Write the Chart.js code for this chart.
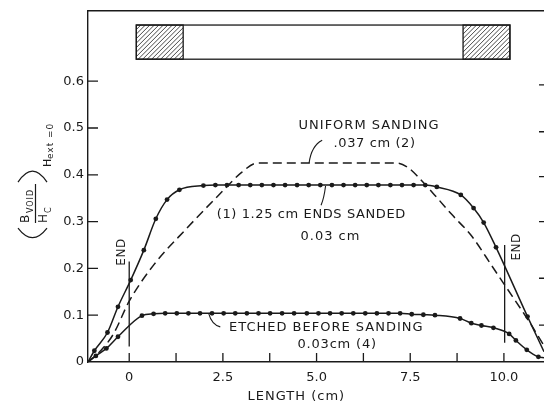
<!DOCTYPE html>
<html>
<head>
<meta charset="utf-8">
<script src="https://cdn.jsdelivr.net/npm/chart.js@4.4.1/dist/chart.umd.min.js"></script>
<style>
  html, body { margin: 0; padding: 0; background: #fff; }
  #wrap { width: 544px; height: 404px; }
</style>
</head>
<body>
<div id="wrap"><canvas id="chart" width="544" height="404"></canvas></div>
<script>
// curve (1): 1.25 cm ends sanded, 0.03 cm
const sandedX = [-1.1, -0.93, -0.58, -0.30, 0.04, 0.39, 0.71, 1.01, 1.34, 1.98,
  2.30, 2.61, 2.92, 3.23, 3.54, 3.85, 4.16, 4.48, 4.79, 5.10, 5.41, 5.72, 6.03, 6.34,
  6.65, 6.97, 7.28, 7.59, 7.90, 8.21, 8.85, 9.19, 9.46, 9.79, 10.63, 11.07];
const sandedY = [0, 0.024, 0.063, 0.118, 0.175, 0.239, 0.306, 0.347, 0.368, 0.377,
  0.378, 0.378, 0.378, 0.378, 0.378, 0.378, 0.378, 0.378, 0.378, 0.378, 0.378, 0.378, 0.378, 0.378,
  0.378, 0.378, 0.378, 0.378, 0.378, 0.374, 0.357, 0.329, 0.298, 0.245, 0.097, 0.022];

// curve (2): uniform sanding, .037 cm (dashed)
const uniformX = [-1.1, -0.75, -0.42, 0, 0.65, 1.54, 2.43, 3.0, 3.41, 7.15, 7.45, 7.75,
  8.27, 8.6, 9.15, 9.69, 10.0, 10.7, 11.07];
const uniformY = [0, 0.025, 0.06, 0.13, 0.207, 0.286, 0.36, 0.405, 0.425, 0.425, 0.415, 0.392,
  0.346, 0.316, 0.268, 0.204, 0.167, 0.083, 0.035];

// curve (4): etched before sanding, 0.03 cm
const etchedX = [-1.1, -0.89, -0.61, -0.30, 0.34, 0.65, 0.96, 1.27, 1.58, 1.89, 2.21, 2.52,
  2.83, 3.14, 3.45, 3.76, 4.08, 4.40, 4.74, 5.05, 5.36, 5.67, 5.98, 6.30, 6.61, 6.92, 7.23,
  7.54, 7.85, 8.16, 8.83, 9.13, 9.40, 9.72, 10.14, 10.32, 10.61, 10.92, 11.07];
const etchedY = [0, 0.013, 0.029, 0.054, 0.099, 0.103, 0.104, 0.104, 0.104, 0.104, 0.104, 0.104,
  0.104, 0.104, 0.104, 0.104, 0.104, 0.104, 0.104, 0.104, 0.104, 0.104, 0.104, 0.104, 0.104, 0.104, 0.104,
  0.102, 0.101, 0.100, 0.093, 0.083, 0.078, 0.073, 0.060, 0.046, 0.026, 0.011, 0.009];

const xTickValues = [0, 1.25, 2.5, 3.75, 5, 6.25, 7.5, 8.75, 10];
const xTickLabels = ['0', '', '2.5', '', '5.0', '', '7.5', '', '10.0'];
const yTickValues = [0, 0.1, 0.2, 0.3, 0.4, 0.5, 0.6];
const yTickLabels = ['0', '0.1', '0.2', '0.3', '0.4', '0.5', '0.6'];
const rightTickValues = [0.079, 0.179, 0.30, 0.396, 0.492, 0.592];

// specimen sketch at the top (cm) and the sample ends
const barX = [0.19, 10.16];
const barY = [0.647, 0.72];
const hatchLen = 1.25;
const endMarks = [0, 10.02];

const ink = '#1a1a1a';
const family = '"DejaVu Sans", sans-serif';

const toPoints = (xs, ys) => xs.map((v, i) => ({ x: v, y: ys[i] }));
const dotRadius = ctx => (ctx.dataIndex === 0 || ctx.dataIndex === ctx.dataset.data.length - 1) ? 0 : 2.4;

const notes = [
  { text: 'UNIFORM SANDING', x: 6.40, y: 0.506, spacing: 1 },
  { text: '.037 cm (2)', x: 6.55, y: 0.467, spacing: 0.6 },
  { text: '(1) 1.25 cm ENDS SANDED', x: 4.86, y: 0.314, spacing: 0.6 },
  { text: '0.03 cm', x: 5.37, y: 0.268, spacing: 1 },
  { text: 'ETCHED BEFORE SANDING', x: 5.26, y: 0.073, spacing: 1 },
  { text: '0.03cm (4)', x: 5.55, y: 0.038, spacing: 0.8 },
];
const leaders = [
  [[5.15, 0.474], [4.86, 0.462], [4.80, 0.425]],
  [[5.24, 0.376], [5.20, 0.350], [5.12, 0.335]],
  [[2.12, 0.104], [2.20, 0.080], [2.43, 0.075]],
];

const sketch = {
  id: 'sketch',
  afterDatasetsDraw(chart) {
    const { ctx, chartArea: area, scales: { x, y } } = chart;
    const px = v => x.getPixelForValue(v);
    const py = v => y.getPixelForValue(v);
    ctx.save();
    ctx.strokeStyle = ink;
    ctx.fillStyle = ink;
    ctx.lineWidth = 1.3;

    // inward tick marks
    ctx.beginPath();
    xTickValues.forEach(v => { ctx.moveTo(px(v), area.bottom); ctx.lineTo(px(v), area.bottom - 9); });
    yTickValues.slice(1).forEach(v => { ctx.moveTo(area.left, py(v)); ctx.lineTo(area.left + 10, py(v)); });
    rightTickValues.forEach(v => { ctx.moveTo(area.right, py(v)); ctx.lineTo(area.right - 5, py(v)); });
    ctx.stroke();

    // specimen bar with hatched ends
    const t = py(barY[1]), b = py(barY[0]);
    const hatch = (x0, x1) => {
      const l = px(x0), r = px(x1);
      ctx.save();
      ctx.beginPath(); ctx.rect(l, t, r - l, b - t); ctx.clip();
      ctx.beginPath();
      for (let s = l - (b - t); s < r; s += 4.5) { ctx.moveTo(s, b); ctx.lineTo(s + (b - t), t); }
      ctx.lineWidth = 0.8; ctx.stroke();
      ctx.restore();
      ctx.strokeRect(l, t, r - l, b - t);
    };
    ctx.strokeRect(px(barX[0]), t, px(barX[1]) - px(barX[0]), b - t);
    hatch(barX[0], barX[0] + hatchLen);
    hatch(barX[1] - hatchLen, barX[1]);

    // END lines and labels
    ctx.beginPath();
    ctx.moveTo(px(endMarks[0]), py(0.215)); ctx.lineTo(px(endMarks[0]), py(0.033));
    ctx.moveTo(px(endMarks[1]), py(0.25)); ctx.lineTo(px(endMarks[1]), py(0.041));
    ctx.stroke();
    ctx.font = '12px ' + family;
    ctx.textAlign = 'center';
    ctx.textBaseline = 'middle';
    ctx.letterSpacing = '0.5px';
    [[-0.19, 0.235], [10.35, 0.246]].forEach(([ex, ey]) => {
      ctx.save();
      ctx.translate(px(ex), py(ey));
      ctx.rotate(-Math.PI / 2);
      ctx.fillText('END', 0, 0);
      ctx.restore();
    });

    // curve notes
    ctx.font = '13px ' + family;
    notes.forEach(n => {
      ctx.letterSpacing = n.spacing + 'px';
      ctx.fillText(n.text, px(n.x), py(n.y));
    });
    ctx.lineWidth = 1.1;
    leaders.forEach(([p0, c, p1]) => {
      ctx.beginPath();
      ctx.moveTo(px(p0[0]), py(p0[1]));
      ctx.quadraticCurveTo(px(c[0]), py(c[1]), px(p1[0]), py(p1[1]));
      ctx.stroke();
    });

    // x axis title
    ctx.letterSpacing = '1px';
    ctx.fillText('LENGTH (cm)', px(4.46), area.bottom + 35);

    // y axis title: (B_VOID / H_C) sub Hext=0, rotated
    ctx.save();
    ctx.translate(area.left - 54, py(0.346));
    ctx.rotate(-Math.PI / 2);
    ctx.textAlign = 'left';
    ctx.textBaseline = 'alphabetic';
    ctx.letterSpacing = '0px';
    ctx.lineWidth = 1.2;
    ctx.beginPath();
    ctx.moveTo(-28, -16); ctx.quadraticCurveTo(-47, -1.5, -28, 13);
    ctx.moveTo(18, -16); ctx.quadraticCurveTo(40, -1.5, 18, 13);
    ctx.moveTo(-23, 1.5); ctx.lineTo(16, 1.5);
    ctx.stroke();
    ctx.font = '12px ' + family;
    ctx.fillText('B', -23, -5);
    ctx.fillText('H', -23, 13);
    ctx.font = '11px ' + family;
    ctx.fillText('H', 33, 17);
    ctx.font = '8px ' + family;
    ctx.letterSpacing = '1px';
    ctx.fillText('VOID', -13, -1);
    ctx.fillText('C', -13, 17);
    ctx.font = '9px ' + family;
    ctx.fillText('ext =0', 41, 19);
    ctx.restore();

    ctx.restore();
  }
};

const tickFont = { family: '"DejaVu Sans", sans-serif', size: 13 };
const noPad = s => { s.paddingTop = 0; s.paddingBottom = 0; s.paddingLeft = 0; s.paddingRight = 0; };

new Chart(document.getElementById('chart'), {
  type: 'scatter',
  data: {
    datasets: [
      {
        data: toPoints(sandedX, sandedY), showLine: true, borderColor: ink, borderWidth: 1.5,
        pointRadius: dotRadius, pointBackgroundColor: ink, pointBorderWidth: 0,
        cubicInterpolationMode: 'monotone'
      },
      {
        data: toPoints(uniformX, uniformY), showLine: true, borderColor: ink, borderWidth: 1.5,
        borderDash: [9, 5], pointRadius: 0, cubicInterpolationMode: 'monotone'
      },
      {
        data: toPoints(etchedX, etchedY), showLine: true, borderColor: ink, borderWidth: 1.5,
        pointRadius: dotRadius, pointBackgroundColor: ink, pointBorderWidth: 0,
        cubicInterpolationMode: 'monotone'
      }
    ]
  },
  options: {
    responsive: false,
    animation: false,
    layout: { padding: 0 },
    plugins: { legend: { display: false }, tooltip: { enabled: false } },
    scales: {
      x: {
        type: 'linear', min: -1.1, max: 11.07,
        afterBuildTicks: s => { s.ticks = xTickValues.map(v => ({ value: v })); },
        afterFit: s => { s.height = 42; noPad(s); },
        grid: { display: false, drawTicks: false },
        border: { display: true, color: ink, width: 1.4 },
        ticks: { callback: (v, i) => xTickLabels[i], padding: 8, font: tickFont, color: ink, maxRotation: 0, autoSkip: false }
      },
      xTop: {
        type: 'linear', position: 'top', min: -1.1, max: 11.07,
        afterFit: s => { s.height = 11; noPad(s); },
        grid: { display: false, drawTicks: false },
        border: { display: true, color: ink, width: 1.4 },
        ticks: { display: false }
      },
      y: {
        type: 'linear', min: 0, max: 0.75,
        afterBuildTicks: s => { s.ticks = yTickValues.map(v => ({ value: v })); },
        afterFit: s => { s.width = 88; noPad(s); },
        grid: { display: false, drawTicks: false },
        border: { display: true, color: ink, width: 1.4 },
        ticks: { callback: (v, i) => yTickLabels[i], padding: 4, font: tickFont, color: ink, autoSkip: false }
      }
    }
  },
  plugins: [sketch]
});
</script>
</body>
</html>
